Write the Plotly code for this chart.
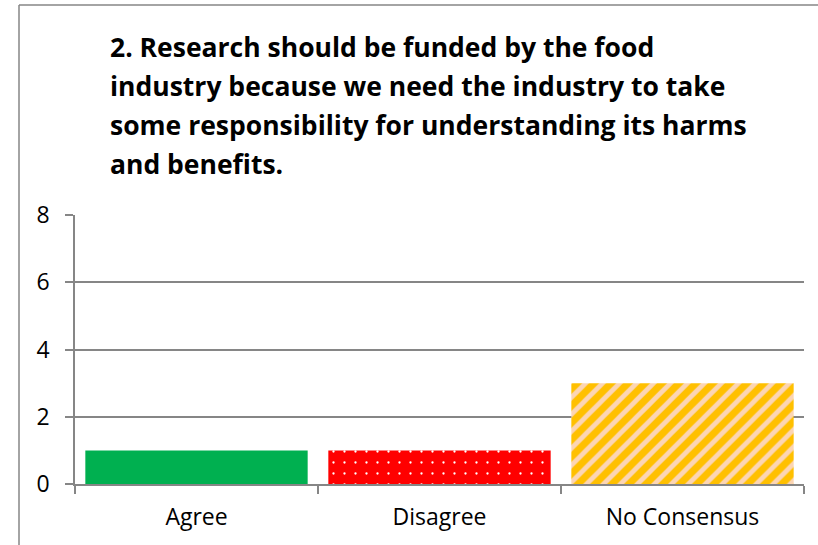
import plotly.graph_objects as go

# Survey responses for statement 2
categories = ["Agree", "Disagree", "No Consensus"]
counts = [1, 1, 3]

title_lines = [
    "2. Research should be funded by the food",
    "industry because we need the industry to take",
    "some responsibility for understanding its harms",
    "and benefits.",
]

y_ticks = [0, 2, 4, 6, 8]

W, H = 818, 545
ML, MR, MT, MB = 75, 14, 215, 61
PW, PH = W - ML - MR, H - MT - MB

FONT = "'Open Sans', sans-serif"
GRID = "#868686"


def px_x(px):
    return (px - ML) / PW


def px_y(py):
    return (H - MB - py) / PH


# fill colour and overlay pattern for each response bar
fill_colors = ["#00B050", "#FF0000", "#FFC000"]
pattern_shapes = ["", ".", "/"]
pattern_colors = ["#00B050", "#FFFFFF", "#FCD5B4"]
pattern_sizes = [10, 11, 12]
pattern_solidity = [0.3, 0.035, 0.4]

fig = go.Figure()
for i, cat in enumerate(categories):
    fig.add_trace(
        go.Bar(
            x=[cat],
            y=[counts[i]],
            name=cat,
            marker=dict(
                color=fill_colors[i],
                line=dict(width=0),
                pattern=dict(
                    shape=pattern_shapes[i],
                    fgcolor=pattern_colors[i],
                    fgopacity=1,
                    size=pattern_sizes[i],
                    solidity=pattern_solidity[i],
                    fillmode="overlay",
                ),
            ),
            hoverinfo="x+y",
        )
    )

annotations = []
line_centers = [47, 86, 125, 164]
for text, yc in zip(title_lines, line_centers):
    annotations.append(
        dict(
            text="<b>%s</b>" % text,
            xref="paper", yref="paper",
            x=px_x(108), y=px_y(yc),
            xanchor="left", yanchor="middle",
            showarrow=False,
            font=dict(family=FONT, size=26.5, color="#000000"),
        )
    )

# chart-area frame
shapes = [
    dict(type="line", xref="paper", yref="paper",
         x0=px_x(19), x1=px_x(19), y0=px_y(5), y1=px_y(560),
         line=dict(color=GRID, width=1.5)),
    dict(type="line", xref="paper", yref="paper",
         x0=px_x(19), x1=px_x(830), y0=px_y(5), y1=px_y(5),
         line=dict(color=GRID, width=1.5)),
]

fig.update_layout(
    width=W, height=H,
    margin=dict(l=ML, r=MR, t=MT, b=MB),
    paper_bgcolor="white", plot_bgcolor="white",
    showlegend=False,
    barmode="overlay",
    bargap=0.085,
    annotations=annotations,
    shapes=shapes,
    font=dict(family=FONT, color="#000000"),
)

fig.update_xaxes(
    categoryorder="array", categoryarray=categories,
    showline=True, linecolor=GRID, linewidth=1.5,
    ticks="outside", tickson="boundaries", ticklen=8, tickcolor=GRID, tickwidth=1.5,
    tickfont=dict(family=FONT, size=23, color="#000000"),
    ticklabelstandoff=12,
    showgrid=False,
)
fig.update_yaxes(
    range=[0, 8], tickvals=y_ticks,
    showline=True, linecolor=GRID, linewidth=1.5,
    ticks="outside", ticklen=8, tickcolor=GRID, tickwidth=1.5,
    showgrid=True, gridcolor=GRID, gridwidth=1.5,
    zeroline=False,
    tickfont=dict(family=FONT, size=23, color="#000000"),
    ticklabelstandoff=11,
)

fig.write_html("out.html")
